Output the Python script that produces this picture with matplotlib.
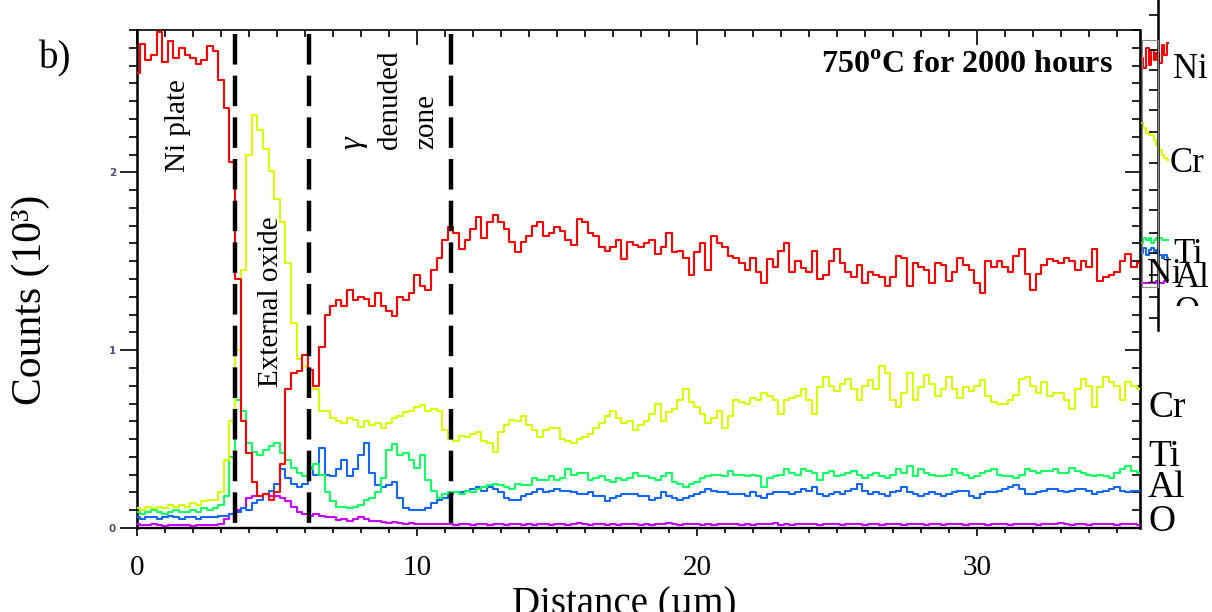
import numpy as np
import matplotlib
matplotlib.use('Agg')
import matplotlib.pyplot as plt
from matplotlib.patches import Rectangle
from matplotlib.ticker import NullFormatter

plt.rcParams['lines.scale_dashes'] = False
plt.rcParams['mathtext.fontset'] = 'custom'
plt.rcParams['mathtext.rm'] = 'Liberation Serif:bold'
SERIF = 'Liberation Serif'

# ---------------- data (counts x 10^3, one value every 0.2 um) ----------------
step_um = 0.2

ni = [2.56, 2.72, 2.63, 2.66, 2.79, 2.62, 2.74, 2.64, 2.70, 2.66,
      2.64, 2.61, 2.63, 2.71, 2.68, 2.52, 2.36, 2.06, 1.40, 0.60,
      0.42, 0.26, 0.18, 0.19, 0.16, 0.20, 0.36, 0.78, 0.87, 0.88,
      0.97, 0.89, 0.80, 1.02, 1.20, 1.25, 1.28, 1.25, 1.34, 1.28,
      1.30, 1.29, 1.25, 1.32, 1.25, 1.22, 1.19, 1.30, 1.28, 1.32,
      1.42, 1.36, 1.34, 1.45, 1.52, 1.62, 1.69, 1.66, 1.57, 1.62,
      1.68, 1.75, 1.63, 1.72, 1.76, 1.72, 1.68, 1.61, 1.55, 1.61,
      1.64, 1.70, 1.72, 1.64, 1.66, 1.69, 1.67, 1.62, 1.59, 1.74,
      1.72, 1.66, 1.64, 1.58, 1.56, 1.58, 1.62, 1.51, 1.61, 1.59,
      1.58, 1.60, 1.62, 1.54, 1.58, 1.66, 1.55, 1.56, 1.52, 1.42,
      1.55, 1.60, 1.45, 1.64, 1.60, 1.58, 1.53, 1.52, 1.49, 1.45,
      1.52, 1.44, 1.38, 1.51, 1.47, 1.56, 1.60, 1.44, 1.50, 1.46,
      1.44, 1.56, 1.40, 1.42, 1.50, 1.57, 1.49, 1.44, 1.41, 1.48,
      1.38, 1.44, 1.42, 1.41, 1.36, 1.41, 1.53, 1.52, 1.36, 1.49,
      1.47, 1.45, 1.38, 1.49, 1.48, 1.39, 1.44, 1.52, 1.48, 1.45,
      1.38, 1.32, 1.50, 1.47, 1.50, 1.47, 1.44, 1.53, 1.57, 1.43,
      1.34, 1.43, 1.48, 1.51, 1.50, 1.49, 1.52, 1.50, 1.45, 1.50,
      1.47, 1.57, 1.39, 1.41, 1.42, 1.44, 1.50, 1.54, 1.47, 1.49]

cr = [0.11, 0.10, 0.12, 0.11, 0.12, 0.11, 0.13, 0.12, 0.13, 0.12,
      0.14, 0.13, 0.15, 0.16, 0.16, 0.20, 0.38, 0.60, 1.00, 1.45,
      2.10, 2.32, 2.24, 2.13, 2.01, 1.85, 1.72, 1.49, 1.15, 0.95,
      0.91, 0.87, 0.78, 0.66, 0.66, 0.62, 0.60, 0.59, 0.62, 0.61,
      0.57, 0.60, 0.58, 0.59, 0.56, 0.59, 0.62, 0.63, 0.65, 0.66,
      0.68, 0.69, 0.66, 0.67, 0.66, 0.55, 0.50, 0.49, 0.52, 0.51,
      0.53, 0.54, 0.49, 0.48, 0.43, 0.54, 0.58, 0.61, 0.60, 0.63,
      0.58, 0.55, 0.51, 0.55, 0.56, 0.56, 0.50, 0.49, 0.48, 0.50,
      0.51, 0.53, 0.56, 0.59, 0.63, 0.66, 0.62, 0.59, 0.60, 0.55,
      0.58, 0.60, 0.64, 0.70, 0.60, 0.65, 0.67, 0.72, 0.78, 0.71,
      0.68, 0.64, 0.59, 0.62, 0.66, 0.56, 0.63, 0.72, 0.71, 0.70,
      0.73, 0.72, 0.76, 0.74, 0.72, 0.64, 0.72, 0.73, 0.74, 0.78,
      0.72, 0.64, 0.79, 0.85, 0.80, 0.77, 0.81, 0.84, 0.78, 0.72,
      0.80, 0.83, 0.78, 0.91, 0.87, 0.72, 0.68, 0.76, 0.87, 0.72,
      0.79, 0.86, 0.81, 0.74, 0.78, 0.85, 0.78, 0.73, 0.79, 0.77,
      0.80, 0.83, 0.74, 0.71, 0.70, 0.70, 0.72, 0.75, 0.84, 0.85,
      0.80, 0.76, 0.82, 0.74, 0.76, 0.76, 0.72, 0.67, 0.78, 0.84,
      0.80, 0.68, 0.79, 0.85, 0.82, 0.80, 0.72, 0.82, 0.80, 0.78]

ti = [0.09, 0.08, 0.09, 0.10, 0.09, 0.08, 0.09, 0.10, 0.09, 0.09,
      0.10, 0.09, 0.11, 0.10, 0.11, 0.13, 0.18, 0.40, 0.72, 0.66,
      0.48, 0.43, 0.41, 0.44, 0.46, 0.48, 0.42, 0.38, 0.34, 0.31,
      0.29, 0.33, 0.36, 0.30, 0.20, 0.15, 0.12, 0.12, 0.11, 0.12,
      0.13, 0.16, 0.17, 0.20, 0.28, 0.44, 0.47, 0.41, 0.42, 0.38,
      0.34, 0.41, 0.27, 0.21, 0.17, 0.19, 0.20, 0.20, 0.19, 0.21,
      0.20, 0.22, 0.23, 0.24, 0.25, 0.24, 0.23, 0.22, 0.25, 0.24,
      0.24, 0.28, 0.27, 0.27, 0.29, 0.27, 0.28, 0.33, 0.30, 0.31,
      0.31, 0.27, 0.28, 0.29, 0.27, 0.26, 0.28, 0.27, 0.28, 0.31,
      0.29, 0.29, 0.28, 0.27, 0.29, 0.31, 0.26, 0.25, 0.23, 0.25,
      0.26, 0.28, 0.29, 0.30, 0.30, 0.29, 0.32, 0.30, 0.30, 0.29,
      0.30, 0.29, 0.23, 0.28, 0.29, 0.30, 0.33, 0.31, 0.30, 0.33,
      0.32, 0.31, 0.27, 0.31, 0.32, 0.29, 0.30, 0.31, 0.32, 0.30,
      0.28, 0.30, 0.31, 0.29, 0.28, 0.30, 0.33, 0.31, 0.35, 0.29,
      0.33, 0.31, 0.30, 0.29, 0.29, 0.30, 0.33, 0.31, 0.30, 0.28,
      0.29, 0.31, 0.32, 0.33, 0.30, 0.29, 0.29, 0.28, 0.30, 0.33,
      0.32, 0.31, 0.32, 0.32, 0.33, 0.31, 0.31, 0.34, 0.32, 0.31,
      0.30, 0.29, 0.30, 0.29, 0.28, 0.31, 0.33, 0.35, 0.32, 0.31]

al = [0.06, 0.05, 0.06, 0.06, 0.05, 0.06, 0.07, 0.06, 0.05, 0.06,
      0.06, 0.05, 0.06, 0.06, 0.06, 0.07, 0.07, 0.08, 0.09, 0.11,
      0.10, 0.14, 0.16, 0.19, 0.21, 0.25, 0.33, 0.28, 0.25, 0.23,
      0.25, 0.34, 0.30, 0.45, 0.30, 0.29, 0.33, 0.38, 0.29, 0.33,
      0.41, 0.48, 0.31, 0.24, 0.23, 0.24, 0.26, 0.17, 0.11, 0.10,
      0.10, 0.10, 0.11, 0.14, 0.16, 0.17, 0.19, 0.20, 0.20, 0.21,
      0.22, 0.23, 0.21, 0.23, 0.22, 0.20, 0.17, 0.16, 0.16, 0.18,
      0.19, 0.20, 0.22, 0.20, 0.21, 0.22, 0.21, 0.21, 0.20, 0.19,
      0.19, 0.20, 0.18, 0.18, 0.15, 0.17, 0.18, 0.19, 0.19, 0.19,
      0.18, 0.18, 0.16, 0.17, 0.20, 0.18, 0.17, 0.16, 0.17, 0.18,
      0.19, 0.20, 0.22, 0.21, 0.20, 0.20, 0.19, 0.19, 0.19, 0.18,
      0.20, 0.18, 0.17, 0.19, 0.20, 0.20, 0.20, 0.19, 0.20, 0.22,
      0.21, 0.23, 0.19, 0.18, 0.19, 0.20, 0.19, 0.21, 0.22, 0.25,
      0.21, 0.19, 0.20, 0.19, 0.18, 0.20, 0.21, 0.23, 0.20, 0.19,
      0.18, 0.19, 0.20, 0.19, 0.18, 0.19, 0.20, 0.21, 0.21, 0.18,
      0.17, 0.19, 0.20, 0.20, 0.21, 0.22, 0.23, 0.24, 0.22, 0.19,
      0.19, 0.20, 0.21, 0.22, 0.22, 0.21, 0.20, 0.21, 0.22, 0.22,
      0.21, 0.19, 0.20, 0.21, 0.22, 0.23, 0.21, 0.20, 0.21, 0.21]

o = [0.020, 0.018, 0.015, 0.020, 0.018, 0.012, 0.015, 0.018, 0.016, 0.015,
     0.014, 0.016, 0.018, 0.015, 0.016, 0.025, 0.050, 0.080, 0.100, 0.110,
     0.170, 0.180, 0.180, 0.190, 0.180, 0.180, 0.170, 0.150, 0.120, 0.090,
     0.080, 0.070, 0.080, 0.070, 0.060, 0.060, 0.045, 0.050, 0.040, 0.050,
     0.060, 0.050, 0.040, 0.040, 0.035, 0.030, 0.035, 0.030, 0.025, 0.030,
     0.025, 0.025, 0.020, 0.022, 0.020, 0.025,
     0.022, 0.018, 0.020, 0.025, 0.015, 0.020, 0.022, 0.018, 0.024, 0.020,
     0.016, 0.022, 0.025, 0.019, 0.021, 0.017, 0.023, 0.020, 0.018, 0.024,
     0.021, 0.019, 0.022, 0.026, 0.020, 0.017, 0.021, 0.023, 0.019, 0.022,
     0.018, 0.020, 0.024, 0.021, 0.017, 0.022, 0.019, 0.023, 0.020, 0.026,
     0.021, 0.018, 0.022, 0.020, 0.024, 0.019, 0.021, 0.017, 0.023, 0.020,
     0.022, 0.025, 0.019, 0.021, 0.018, 0.023, 0.020, 0.022, 0.026, 0.019,
     0.021, 0.018, 0.022, 0.020, 0.024, 0.021, 0.017, 0.022, 0.020, 0.023,
     0.019, 0.021, 0.025, 0.020, 0.018, 0.022, 0.024, 0.019, 0.021, 0.023,
     0.020, 0.018, 0.022, 0.025, 0.021, 0.019, 0.023, 0.020, 0.017, 0.022,
     0.024, 0.020, 0.019, 0.022, 0.021, 0.025, 0.018, 0.020, 0.023, 0.021,
     0.019, 0.022, 0.020, 0.024, 0.021, 0.018, 0.023, 0.020, 0.022, 0.026,
     0.020, 0.019, 0.023, 0.021, 0.018, 0.022, 0.025, 0.020, 0.021, 0.019,
     0.022, 0.020, 0.021, 0.018]

zone_boundaries = [3.5, 6.14, 11.21]
x_tick_values = [0, 10, 20, 30]
x_tick_labels = ['0', '10', '20', '30']
y_tick_values = [0, 1, 2]
y_tick_labels = ['0', '1', '2']

# partial, overlapped second panel at the right edge (relative units)
mini_ni = [0.93, 0.89, 0.97, 0.90, 0.96, 0.92, 0.95, 0.91, 0.98, 0.94, 0.99]
mini_cr = [0.67, 0.65, 0.63, 0.62, 0.62, 0.60, 0.58, 0.56, 0.54, 0.53, 0.52]
mini_ti = [0.19, 0.21, 0.20, 0.21, 0.19, 0.20, 0.21, 0.21, 0.20, 0.20, 0.20]
mini_al = [0.15, 0.17, 0.14, 0.16, 0.17, 0.15, 0.16, 0.14, 0.13, 0.14, 0.13]
mini_o = [0.03, 0.03, 0.03, 0.03, 0.03, 0.03, 0.035, 0.03, 0.03, 0.035, 0.04]

C_NI, C_CR, C_TI, C_AL, C_O = '#ff0000', '#d4ff00', '#14ff64', '#1466ff', '#c800ff'

# ---------------- figure ----------------
W, H = 1212, 612
fig = plt.figure(figsize=(W / 100, H / 100), dpi=100)


def fx(px):
    return px / W


def fy(py):
    return 1 - py / H


ax = fig.add_axes([fx(137), fy(528), (1140 - 137) / W, (528 - 30) / H])
ax.set_xlim(0, 35.82)
ax.set_ylim(0, 2.8)

for vals, col in [(o, C_O), (al, C_AL), (ti, C_TI), (cr, C_CR), (ni, C_NI)]:
    d = np.arange(len(vals)) * step_um
    ax.plot(d, vals, drawstyle='steps-mid', color=col, lw=1.5, zorder=3)

for b in zone_boundaries:
    ax.plot([b, b], [2.775, 0.0], color='black', lw=3.2, dashes=(22, 8),
            solid_capstyle='butt', zorder=4)

# spines
ax.spines['top'].set_visible(False)
ax.spines['right'].set_visible(False)
ax.spines['left'].set_linewidth(1.8)
ax.spines['bottom'].set_linewidth(1.7)

ax.set_xticks(x_tick_values, labels=x_tick_labels)
ax.set_xticks(np.arange(0, 36, 1), minor=True)
ax.tick_params(axis='x', which='major', direction='out', length=5.5, width=1.2,
               pad=14, labelsize=21)
ax.tick_params(axis='x', which='minor', direction='out', length=3.6, width=1.2)
for lab in ax.get_xticklabels():
    lab.set_family(SERIF)

ax.set_yticks(y_tick_values, labels=y_tick_labels)
ax.set_yticks(np.arange(0, 2.81, 0.1), minor=True)
ax.tick_params(axis='y', which='major', direction='out', length=12, width=1.2,
               pad=3, labelsize=7.5, labelcolor='#5a4a7a')
ax.tick_params(axis='y', which='minor', direction='out', length=6, width=1.2)
for lab in ax.get_yticklabels():
    lab.set_fontweight('bold')

sec_top = ax.secondary_xaxis('top')
sec_top.set_xticks(x_tick_values)
sec_top.set_xticks(np.arange(0, 36, 1), minor=True)
sec_top.xaxis.set_major_formatter(NullFormatter())
sec_top.tick_params(axis='x', which='major', direction='in', length=11, width=1.2)
sec_top.tick_params(axis='x', which='minor', direction='in', length=5, width=1.2)
sec_top.spines['top'].set_linewidth(1.2)

sec_right = ax.secondary_yaxis('right')
sec_right.set_yticks(y_tick_values)
sec_right.set_yticks(np.arange(0, 2.81, 0.1), minor=True)
sec_right.yaxis.set_major_formatter(NullFormatter())
sec_right.tick_params(axis='y', which='major', direction='in', length=11, width=1.2)
sec_right.tick_params(axis='y', which='minor', direction='in', length=5.5, width=1.2)
sec_right.spines['right'].set_linewidth(1.9)

# annotations inside the plot
ax.text(1.46, 2.26, 'Ni plate', rotation=90, ha='center', va='center',
        fontsize=21, family=SERIF, zorder=5)
ax.text(4.79, 1.27, 'External oxide', rotation=90, ha='center', va='center',
        fontsize=21, family=SERIF, zorder=5)
ax.text(7.71, 2.13, 'γ', rotation=90, ha='center', va='bottom',
        fontsize=23, family=SERIF, style='italic', zorder=5)
ax.text(9.04, 2.13, 'denuded', rotation=90, ha='center', va='bottom',
        fontsize=21, family=SERIF, zorder=5)
ax.text(10.32, 2.13, 'zone', rotation=90, ha='center', va='bottom',
        fontsize=21, family=SERIF, zorder=5)
ax.text(34.86, 2.60, r'750$^{\rm o}$C for 2000 hours', ha='right', va='center',
        fontsize=23, family=SERIF, weight='bold', zorder=5)

# figure-level texts
fig.text(fx(39), fy(68), 'b)', fontsize=28, family=SERIF, va='baseline')
fig.text(fx(31), fy(300), 'Counts (10³)', rotation=90, ha='center', va='center',
         fontsize=30, family=SERIF)
fig.text(fx(624), fy(614), 'Distance (µm)', ha='center', va='baseline',
         fontsize=28, family=SERIF)

for lab, px, py in [('Cr', 1148, 417), ('Ti', 1148, 466), ('Al', 1148, 497),
                    ('O', 1148, 531)]:
    fig.text(fx(px), fy(py), lab, fontsize=27, family=SERIF, va='baseline', zorder=5)

# overlapped second panel at the right edge
ax2 = fig.add_axes([fx(1142), fy(290), 26 / W, 250 / H])
ax2.set_xlim(0, 1)
ax2.set_ylim(0, 1)
ax2.axis('off')
mx = np.linspace(0, 1, len(mini_ni))
for vals, col in [(mini_o, C_O), (mini_al, C_AL), (mini_ti, C_TI),
                  (mini_cr, C_CR), (mini_ni, C_NI)]:
    ax2.plot(mx, vals, drawstyle='steps-mid', color=col, lw=1.5, clip_on=False)

ax3 = fig.add_axes([fx(1141), fy(330), 17 / W, 330 / H])
ax3.patch.set_alpha(0)
ax3.set_xlim(0, 1)
ax3.set_ylim(330, 0)
for s in ['left', 'top', 'bottom']:
    ax3.spines[s].set_visible(False)
ax3.spines['right'].set_linewidth(1.8)
ax3.set_xticks([])
ax3.yaxis.tick_right()
ax3.set_yticks([15, 50, 70, 90, 110, 132, 163, 190, 210, 233, 253, 275, 297, 318])
ax3.yaxis.set_major_formatter(NullFormatter())
ax3.tick_params(axis='y', direction='in', length=6.5, width=1.2)

fig.patches.append(Rectangle((fx(1142), fy(287)), 16 / W, 247 / H, fill=False,
                             ec='#8a8a8a', lw=0.8, transform=fig.transFigure,
                             figure=fig))

for lab, px, py in [('Ni', 1173, 78), ('Cr', 1170, 172), ('Ti', 1173, 263),
                    ('Ni', 1147, 283), ('Al', 1175, 287), ('O', 1175, 321)]:
    fig.text(fx(px), fy(py), lab, fontsize=25, family=SERIF, va='baseline', zorder=5)

fig.patches.append(Rectangle((fx(1162), fy(345)), (W - 1162) / W, (345 - 306) / H,
                             facecolor='white', edgecolor='none',
                             transform=fig.transFigure, figure=fig, zorder=20))

fig.savefig('out.png', dpi=100)
